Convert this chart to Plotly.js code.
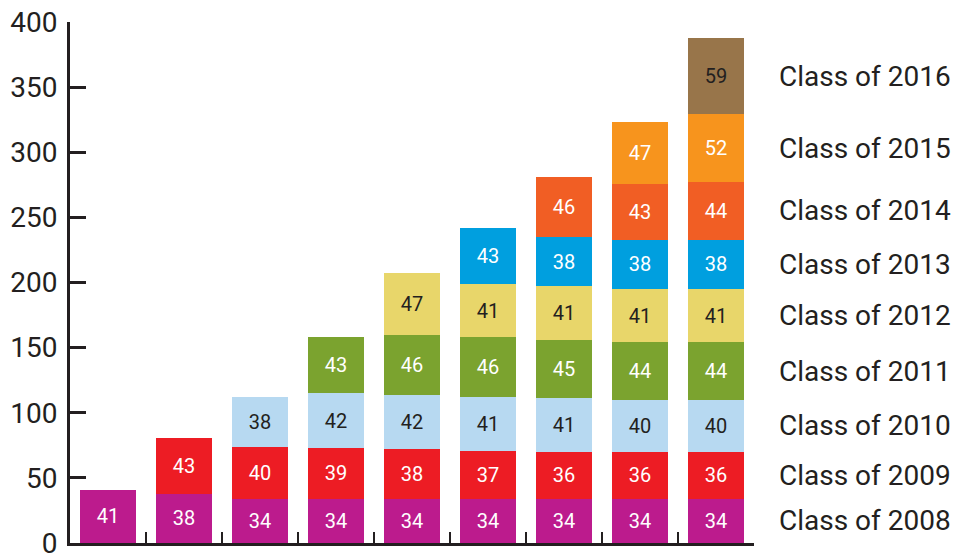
<!DOCTYPE html>
<html>
<head>
<meta charset="utf-8">
<script src="https://cdn.plot.ly/plotly-3.0.1.min.js"></script>
<style>html,body{margin:0;padding:0;background:#fff;}#chart{width:954px;height:556px;}</style>
</head>
<body>
<div id="chart"></div>
<script>
const bars = ["b1","b2","b3","b4","b5","b6","b7","b8","b9"];
const seriesNames = ["Class of 2008","Class of 2009","Class of 2010","Class of 2011","Class of 2012","Class of 2013","Class of 2014","Class of 2015","Class of 2016"];
const class2008 = [41,38,34,34,34,34,34,34,34];
const class2009 = [null,43,40,39,38,37,36,36,36];
const class2010 = [null,null,38,42,42,41,41,40,40];
const class2011 = [null,null,null,43,46,46,45,44,44];
const class2012 = [null,null,null,null,47,41,41,41,41];
const class2013 = [null,null,null,null,null,43,38,38,38];
const class2014 = [null,null,null,null,null,null,46,43,44];
const class2015 = [null,null,null,null,null,null,null,47,52];
const class2016 = [null,null,null,null,null,null,null,null,59];
const yTicks = [0,50,100,150,200,250,300,350,400];

const allSeries = [class2008,class2009,class2010,class2011,class2012,class2013,class2014,class2015,class2016];
const colors = ["#bc1b8d","#ed1c24","#b7d9f1","#7ba32f","#e8d66a","#009fdf","#f15e24","#f7941d","#98754a"];
const textColors = ["#ffffff","#ffffff","#231f20","#ffffff","#231f20","#ffffff","#ffffff","#ffffff","#231f20"];
const FONT = "Roboto, 'DejaVu Sans', sans-serif";

const traces = allSeries.map((vals, i) => ({
  type: "bar",
  name: seriesNames[i],
  x: bars,
  y: vals,
  text: vals.map(v => v == null ? "" : String(v)),
  textposition: "inside",
  insidetextanchor: "middle",
  textangle: 0,
  textfont: {family: FONT, size: 20, color: textColors[i]},
  marker: {color: colors[i], line: {width: 0}},
  hoverinfo: "skip",
  cliponaxis: false
}));

const last = bars.length - 1;
let cum = 0;
const annotations = allSeries.map((vals, i) => {
  const v = vals[last] || 0;
  const mid = cum + v / 2;
  cum += v;
  return {
    xref: "paper", yref: "y", x: 1.033, y: mid,
    xanchor: "left", yanchor: "middle",
    text: seriesNames[i], showarrow: false,
    font: {family: FONT, size: 28, color: "#231f20"}
  };
});

const layout = {
  width: 954, height: 556,
  margin: {l: 70, r: 200, t: 22, b: 13, pad: 0},
  paper_bgcolor: "#ffffff", plot_bgcolor: "#ffffff",
  barmode: "stack",
  bargap: 0.26,
  showlegend: false,
  font: {family: FONT, color: "#231f20"},
  xaxis: {
    type: "category",
    range: [-0.5, 8.5],
    showticklabels: false,
    showline: true, linecolor: "#231f20", linewidth: 3,
    ticks: "inside", tickson: "boundaries", ticklen: 11, tickwidth: 2.5, tickcolor: "#231f20",
    showgrid: false, zeroline: false, fixedrange: true
  },
  yaxis: {
    range: [0, 400],
    tickvals: yTicks,
    ticktext: yTicks.map(String),
    showline: true, linecolor: "#231f20", linewidth: 3,
    ticks: "inside", ticklen: 16, tickwidth: 3, tickcolor: "#231f20",
    tickfont: {family: FONT, size: 28, color: "#231f20"},
    ticklabelstandoff: 4,
    ticklabeloverflow: "allow",
    automargin: false,
    showgrid: false, zeroline: false, fixedrange: true
  },
  annotations: annotations
};

Plotly.newPlot("chart", traces, layout, {displayModeBar: false, staticPlot: true});
</script>
</body>
</html>
